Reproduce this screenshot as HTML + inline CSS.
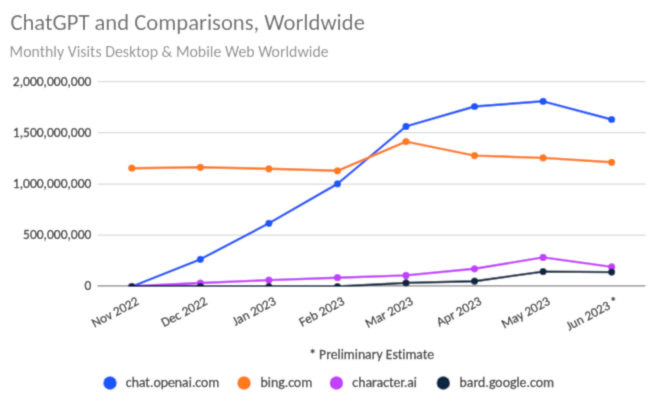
<!DOCTYPE html>
<html><head><meta charset="utf-8"><title>ChatGPT and Comparisons, Worldwide</title>
<style>
html,body{margin:0;padding:0;background:#fff;width:657px;height:403px;overflow:hidden}
svg{display:block}
text{font-family:"Carlito", "Liberation Sans", sans-serif;font-variant-ligatures:none;font-kerning:normal}
</style></head><body>
<svg width="657" height="403" viewBox="0 0 657 403">
<defs><filter id="bl" x="0" y="0" width="657" height="403" filterUnits="userSpaceOnUse"><feConvolveMatrix order="3" kernelMatrix="1 4 1 4 16 4 1 4 1" divisor="36" edgeMode="duplicate"/></filter></defs>
<g filter="url(#bl)">
<rect width="657" height="403" fill="#fff"/>
<defs><clipPath id="pc"><rect x="97.5" y="60" width="547.9" height="226.79999999999995"/></clipPath></defs>
<text x="10.4" y="30.0" font-size="22.6" fill="#6a6a6a" textLength="354.5" lengthAdjust="spacingAndGlyphs">ChatGPT and Comparisons, Worldwide</text>
<text x="9.6" y="56.7" font-size="15.8" fill="#8f8f8f" textLength="319" lengthAdjust="spacingAndGlyphs">Monthly Visits Desktop &amp; Mobile Web Worldwide</text>
<line x1="97.5" y1="81.70" x2="645.4" y2="81.70" stroke="#d9d9d9" stroke-width="1.3"/>
<line x1="97.5" y1="132.70" x2="645.4" y2="132.70" stroke="#d9d9d9" stroke-width="1.3"/>
<line x1="97.5" y1="184.20" x2="645.4" y2="184.20" stroke="#d9d9d9" stroke-width="1.3"/>
<line x1="97.5" y1="235.20" x2="645.4" y2="235.20" stroke="#d9d9d9" stroke-width="1.3"/>
<text x="91.4" y="86.00" font-size="13.5" fill="#363636" stroke="#363636" stroke-width="0.3" text-anchor="end" textLength="78.53" lengthAdjust="spacingAndGlyphs">2,000,000,000</text>
<text x="91.4" y="137.05" font-size="13.5" fill="#363636" stroke="#363636" stroke-width="0.3" text-anchor="end" textLength="78.53" lengthAdjust="spacingAndGlyphs">1,500,000,000</text>
<text x="91.4" y="188.10" font-size="13.5" fill="#363636" stroke="#363636" stroke-width="0.3" text-anchor="end" textLength="78.53" lengthAdjust="spacingAndGlyphs">1,000,000,000</text>
<text x="91.4" y="239.15" font-size="13.5" fill="#363636" stroke="#363636" stroke-width="0.3" text-anchor="end" textLength="68.33" lengthAdjust="spacingAndGlyphs">500,000,000</text>
<text x="91.4" y="290.20" font-size="13.5" fill="#363636" stroke="#363636" stroke-width="0.3" text-anchor="end" textLength="6.84" lengthAdjust="spacingAndGlyphs">0</text>
<line x1="97.5" y1="285.9" x2="645.4" y2="285.9" stroke="#808080" stroke-width="1.4"/>
<g clip-path="url(#pc)" stroke-linejoin="round" stroke-linecap="round">
<polyline points="131.80,286.50 200.35,259.30 268.90,223.30 337.45,183.90 406.00,126.40 474.55,106.50 543.10,101.30 611.65,119.50" fill="none" stroke="#1A56FF" stroke-width="2.4"/>
<circle cx="131.80" cy="286.50" r="3.6" fill="#1A56FF"/>
<circle cx="200.35" cy="259.30" r="3.6" fill="#1A56FF"/>
<circle cx="268.90" cy="223.30" r="3.6" fill="#1A56FF"/>
<circle cx="337.45" cy="183.90" r="3.6" fill="#1A56FF"/>
<circle cx="406.00" cy="126.40" r="3.6" fill="#1A56FF"/>
<circle cx="474.55" cy="106.50" r="3.6" fill="#1A56FF"/>
<circle cx="543.10" cy="101.30" r="3.6" fill="#1A56FF"/>
<circle cx="611.65" cy="119.50" r="3.6" fill="#1A56FF"/>
<polyline points="131.80,168.20 200.35,167.30 268.90,168.80 337.45,170.80 406.00,141.60 474.55,155.60 543.10,157.90 611.65,162.30" fill="none" stroke="#FF7A1A" stroke-width="2.4"/>
<circle cx="131.80" cy="168.20" r="3.6" fill="#FF7A1A"/>
<circle cx="200.35" cy="167.30" r="3.6" fill="#FF7A1A"/>
<circle cx="268.90" cy="168.80" r="3.6" fill="#FF7A1A"/>
<circle cx="337.45" cy="170.80" r="3.6" fill="#FF7A1A"/>
<circle cx="406.00" cy="141.60" r="3.6" fill="#FF7A1A"/>
<circle cx="474.55" cy="155.60" r="3.6" fill="#FF7A1A"/>
<circle cx="543.10" cy="157.90" r="3.6" fill="#FF7A1A"/>
<circle cx="611.65" cy="162.30" r="3.6" fill="#FF7A1A"/>
<polyline points="131.80,286.30 200.35,283.00 268.90,280.10 337.45,277.70 406.00,275.40 474.55,268.80 543.10,257.40 611.65,266.90" fill="none" stroke="#C23FFF" stroke-width="2.4"/>
<circle cx="131.80" cy="286.30" r="3.6" fill="#C23FFF"/>
<circle cx="200.35" cy="283.00" r="3.6" fill="#C23FFF"/>
<circle cx="268.90" cy="280.10" r="3.6" fill="#C23FFF"/>
<circle cx="337.45" cy="277.70" r="3.6" fill="#C23FFF"/>
<circle cx="406.00" cy="275.40" r="3.6" fill="#C23FFF"/>
<circle cx="474.55" cy="268.80" r="3.6" fill="#C23FFF"/>
<circle cx="543.10" cy="257.40" r="3.6" fill="#C23FFF"/>
<circle cx="611.65" cy="266.90" r="3.6" fill="#C23FFF"/>
<polyline points="131.80,286.50 200.35,286.50 268.90,286.50 337.45,286.50 406.00,282.90 474.55,281.20 543.10,271.60 611.65,272.10" fill="none" stroke="#0B2542" stroke-width="2.4"/>
<circle cx="131.80" cy="286.50" r="3.6" fill="#0B2542"/>
<circle cx="200.35" cy="286.50" r="3.6" fill="#0B2542"/>
<circle cx="268.90" cy="286.50" r="3.6" fill="#0B2542"/>
<circle cx="337.45" cy="286.50" r="3.6" fill="#0B2542"/>
<circle cx="406.00" cy="282.90" r="3.6" fill="#0B2542"/>
<circle cx="474.55" cy="281.20" r="3.6" fill="#0B2542"/>
<circle cx="543.10" cy="271.60" r="3.6" fill="#0B2542"/>
<circle cx="611.65" cy="272.10" r="3.6" fill="#0B2542"/>
</g>
<text transform="translate(139.70,303.85) rotate(-28)" font-size="13.2" fill="#363636" stroke="#363636" stroke-width="0.3" text-anchor="end" textLength="51.11" lengthAdjust="spacingAndGlyphs">Nov 2022</text>
<text transform="translate(208.25,303.85) rotate(-28)" font-size="13.2" fill="#363636" stroke="#363636" stroke-width="0.3" text-anchor="end" textLength="50.00" lengthAdjust="spacingAndGlyphs">Dec 2022</text>
<text transform="translate(276.80,303.85) rotate(-28)" font-size="13.2" fill="#363636" stroke="#363636" stroke-width="0.3" text-anchor="end" textLength="47.20" lengthAdjust="spacingAndGlyphs">Jan 2023</text>
<text transform="translate(345.35,303.85) rotate(-28)" font-size="13.2" fill="#363636" stroke="#363636" stroke-width="0.3" text-anchor="end" textLength="49.10" lengthAdjust="spacingAndGlyphs">Feb 2023</text>
<text transform="translate(413.90,303.85) rotate(-28)" font-size="13.2" fill="#363636" stroke="#363636" stroke-width="0.3" text-anchor="end" textLength="51.95" lengthAdjust="spacingAndGlyphs">Mar 2023</text>
<text transform="translate(482.45,303.85) rotate(-28)" font-size="13.2" fill="#363636" stroke="#363636" stroke-width="0.3" text-anchor="end" textLength="48.91" lengthAdjust="spacingAndGlyphs">Apr 2023</text>
<text transform="translate(551.00,303.85) rotate(-28)" font-size="13.2" fill="#363636" stroke="#363636" stroke-width="0.3" text-anchor="end" textLength="53.06" lengthAdjust="spacingAndGlyphs">May 2023</text>
<text transform="translate(619.55,303.85) rotate(-28)" font-size="13.2" fill="#363636" stroke="#363636" stroke-width="0.3" text-anchor="end" textLength="57.37" lengthAdjust="spacingAndGlyphs">Jun 2023 *</text>
<text x="371.6" y="358.5" font-size="13.7" fill="#363636" stroke="#363636" stroke-width="0.3" text-anchor="middle" textLength="124.84" lengthAdjust="spacingAndGlyphs">* Preliminary Estimate</text>
<circle cx="110.0" cy="383.1" r="6.75" fill="#1A56FF"/>
<text x="125.8" y="387.0" font-size="13.8" fill="#363636" stroke="#363636" stroke-width="0.3" textLength="93.59" lengthAdjust="spacingAndGlyphs">chat.openai.com</text>
<circle cx="244.05" cy="383.1" r="6.75" fill="#FF7A1A"/>
<text x="260.5" y="387.0" font-size="13.8" fill="#363636" stroke="#363636" stroke-width="0.3" textLength="51.67" lengthAdjust="spacingAndGlyphs">bing.com</text>
<circle cx="336.45" cy="383.1" r="6.75" fill="#C23FFF"/>
<text x="352.3" y="387.0" font-size="13.8" fill="#363636" stroke="#363636" stroke-width="0.3" textLength="64.69" lengthAdjust="spacingAndGlyphs">character.ai</text>
<circle cx="443.3" cy="383.1" r="6.75" fill="#0B2542"/>
<text x="459.6" y="387.0" font-size="13.8" fill="#363636" stroke="#363636" stroke-width="0.3" textLength="94.34" lengthAdjust="spacingAndGlyphs">bard.google.com</text>
</g>
</svg>
</body></html>
